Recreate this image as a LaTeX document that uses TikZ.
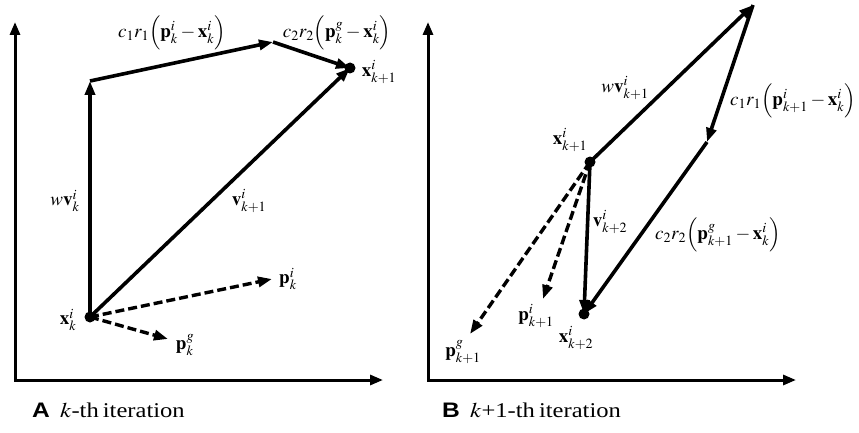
\documentclass[tikz,border=0pt]{standalone}
\usepackage{mathptmx}
\usepackage{fontspec}
\setmainfont{Liberation Serif}
\newfontfamily\capsans{Liberation Sans}
\usetikzlibrary{arrows.meta}
\begin{document}
\begin{tikzpicture}[x=1pt,y=-1pt,
  axis/.style={line width=3pt,{Triangle[length=13pt,width=10pt]}-{Triangle[length=13pt,width=10pt]}},
  vec/.style={line width=3.6pt,-{Triangle[length=14pt,width=10pt]}},
  dvec/.style={line width=3.4pt,dash pattern=on 9pt off 4pt,-{Triangle[length=14pt,width=10pt]}},
  lab/.style={inner sep=0pt,font=\fontsize{19}{21}\selectfont},
  captext/.style={inner sep=0pt,anchor=west,font=\fontsize{21}{24}\selectfont},
  dot/.style={circle,fill=black,inner sep=0pt,minimum size=11pt}]
\path[use as bounding box] (0,0) rectangle (859,433);
% ---------- Panel A ----------
\coordinate (Ao) at (15,380);
\coordinate (Ay) at (15,22);
\coordinate (Ax) at (383,380);
\draw[axis] (Ay) -- (Ao) -- (Ax);
\coordinate (xk) at (90,317);
\coordinate (A1) at (90,81);
\coordinate (A2) at (273,42);
\coordinate (xk1) at (350,68);
\coordinate (pki) at (272,279);
\coordinate (pkg) at (168,339);
\draw[vec] (xk) -- (A1);
\draw[vec] (A1) -- (A2);
\draw[vec] (A2) -- (xk1);
\draw[vec] (xk) -- (xk1);
\draw[dvec] (xk) -- (pki);
\draw[dvec] (xk) -- (pkg);
\node[dot] (dxk) at (xk) {};
\node[dot] (dxk1) at (xk1) {};
\node[lab] (lc1) at (172,33) {$c_1r_1\Bigl(\mathbf{p}_k^i-\mathbf{x}_k^i\Bigr)$};
\node[lab] (lc2) at (337,33) {$c_2r_2\Bigl(\mathbf{p}_k^g-\mathbf{x}_k^i\Bigr)$};
\node[lab] (lxk1) at (379,72) {$\mathbf{x}_{k+1}^i$};
\node[lab] (lwv) at (65,201) {$w\mathbf{v}_k^i$};
\node[lab] (lv) at (249,201) {$\mathbf{v}_{k+1}^i$};
\node[lab] (lxk) at (68,320) {$\mathbf{x}_k^i$};
\node[lab] (lpki) at (288,279) {$\mathbf{p}_k^i$};
\node[lab] (lpkg) at (185,345) {$\mathbf{p}_k^g$};
\node[captext] (capA) at (32,410) {\scalebox{1.17}[1]{{\capsans\bfseries A}\, $k$-th\,iteration}};
% ---------- Panel B ----------
\coordinate (Bo) at (428,380);
\coordinate (By) at (428,22);
\coordinate (Bx) at (796,380);
\draw[axis] (By) -- (Bo) -- (Bx);
\coordinate (xb) at (590,162);
\coordinate (B1) at (753,5);
\coordinate (B2) at (707,142);
\coordinate (xk2) at (584,314);
\coordinate (pbi) at (543,299);
\coordinate (pbg) at (470,334);
\draw[vec] (xb) -- (B1);
\draw[vec] (B1) -- (B2);
\draw[vec] (B2) -- (xk2);
\draw[vec] (xb) -- (xk2);
\draw[dvec] (xb) -- (pbi);
\draw[dvec] (xb) -- (pbg);
\node[dot] (dxb) at (xb) {};
\node[dot] (dxk2) at (xk2) {};
\node[lab] (lwvb) at (625,88) {$w\mathbf{v}_{k+1}^i$};
\node[lab] (lc1b) at (793,101) {$c_1r_1\Bigl(\mathbf{p}_{k+1}^i-\mathbf{x}_k^i\Bigr)$};
\node[lab] (lxb) at (570,140) {$\mathbf{x}_{k+1}^i$};
\node[lab] (lvb) at (610,222) {$\mathbf{v}_{k+2}^i$};
\node[lab] (lc2b) at (718,235) {$c_2r_2\Bigl(\mathbf{p}_{k+1}^g-\mathbf{x}_k^i\Bigr)$};
\node[lab] (lpbi) at (536,316) {$\mathbf{p}_{k+1}^i$};
\node[lab] (lxk2) at (576,338) {$\mathbf{x}_{k+2}^i$};
\node[lab] (lpbg) at (463,352) {$\mathbf{p}_{k+1}^g$};
\node[captext] (capB) at (442,410) {\scalebox{1.17}[1]{{\capsans\bfseries B}\, $k$+1-th\,iteration}};
\end{tikzpicture}
\end{document}
